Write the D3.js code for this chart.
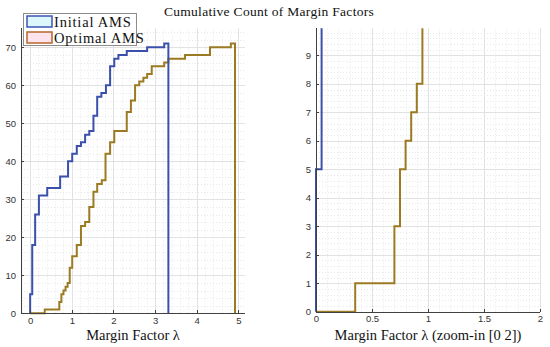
<!DOCTYPE html>
<html lang="en">
    <head>
        <meta charset="utf-8">
        <title>Cumulative Count of Margin Factors</title>
        <script src="https://cdn.jsdelivr.net/npm/d3@7"></script>
        <style type="text/css">
            body { margin: 0; background: #fff; }
            .axis path, .axis line { stroke: #404040; shape-rendering: crispEdges; }
            .axis text { font-family: "Liberation Sans", Arial, sans-serif; font-size: 9.5px; fill: #333; }
            .serif { font-family: "Liberation Serif", "Times New Roman", serif; fill: #111; }
        </style>
    </head>
    <body>
        <script type="text/javascript">
            // step positions (margin factor) and cumulative counts
            const initX = [0, 0.05, 0.12, 0.21, 0.41, 0.72, 0.91, 1.01, 1.12, 1.22, 1.32, 1.42, 1.52, 1.61, 1.71, 1.82, 1.92, 2.02, 2.12, 2.32, 2.81, 3.22]
            const initCount = [5, 18, 26, 31, 33, 36, 40, 42, 44, 45, 47, 48, 52, 57, 58, 60, 65, 67, 68, 69, 70, 71]
            const initEnd = 3.32

            const optX = [0.35, 0.70, 0.75, 0.80, 0.85, 0.90, 0.95, 1.01, 1.12, 1.22, 1.32, 1.42, 1.52, 1.61, 1.72, 1.81, 1.92, 2.02, 2.32, 2.42, 2.52, 2.62, 2.72, 2.81, 2.92, 3.22, 3.32, 3.72, 4.32, 4.82]
            const optCount = [1, 3, 5, 6, 7, 8, 12, 15, 18, 23, 24, 28, 32, 34, 35, 42, 45, 48, 53, 56, 60, 61, 62, 63, 65, 66, 67, 68, 70, 71]
            const optEnd = 4.92

            const leftXTicks = [0, 1, 2, 3, 4, 5]
            const leftYTicks = [0, 10, 20, 30, 40, 50, 60, 70]
            const rightXTicks = [0, 0.5, 1, 1.5, 2]
            const rightYTicks = [0, 1, 2, 3, 4, 5, 6, 7, 8, 9]

            const series = [
                { name: "Initial AMS", xs: initX, ys: initCount, end: initEnd, color: "#3a50ab", swatch: "#ddf6fb", border: "#3a55b5" },
                { name: "Optimal AMS", xs: optX, ys: optCount, end: optEnd, color: "#9c7a22", swatch: "#fce3ee", border: "#b8662a" }
            ]

            const w = 550
            const h = 347

            const svg = d3.select("body").append("svg")
                .attr("width", w)
                .attr("height", h)

            function toPoints(s) {
                const pts = [[0, 0]]
                s.xs.forEach((x, i) => pts.push([x, s.ys[i]]))
                pts.push([s.end, s.ys[s.ys.length - 1]])
                pts.push([s.end, 0])
                return pts
            }

            function panel(opt) {
                const g = svg.append("g")
                const x = opt.x, y = opt.y
                const [x0, x1] = x.range()
                const [y0, y1] = y.range()

                // minor grid
                g.append("g").selectAll("line")
                    .data(d3.range(x.domain()[0], x.domain()[1] + 1e-9, opt.xMinor).map(v => Math.round(v / opt.xMinor) * opt.xMinor))
                    .enter().append("line")
                    .attr("x1", d => Math.round(x(d)) + 0.5).attr("x2", d => Math.round(x(d)) + 0.5)
                    .attr("y1", y0).attr("y2", y1)
                    .attr("stroke", "#d8d8d8").attr("stroke-width", 0.6).attr("stroke-dasharray", "1,2")
                g.append("g").selectAll("line")
                    .data(d3.range(0, y.domain()[1] + 1e-9, opt.yMinor))
                    .enter().append("line")
                    .attr("y1", d => Math.round(y(d)) + 0.5).attr("y2", d => Math.round(y(d)) + 0.5)
                    .attr("x1", x0).attr("x2", x1)
                    .attr("stroke", "#d8d8d8").attr("stroke-width", 0.6).attr("stroke-dasharray", "1,2")

                // major grid
                g.append("g").selectAll("line")
                    .data(opt.xTicks)
                    .enter().append("line")
                    .attr("x1", d => Math.round(x(d)) + 0.5).attr("x2", d => Math.round(x(d)) + 0.5)
                    .attr("y1", y0).attr("y2", y1)
                    .attr("stroke", "#e2e2e2").attr("stroke-width", 1)
                g.append("g").selectAll("line")
                    .data(opt.yTicks)
                    .enter().append("line")
                    .attr("y1", d => Math.round(y(d)) + 0.5).attr("y2", d => Math.round(y(d)) + 0.5)
                    .attr("x1", x0).attr("x2", x1)
                    .attr("stroke", "#e2e2e2").attr("stroke-width", 1)

                // stairs
                const clipId = "clip" + opt.id
                svg.append("clipPath").attr("id", clipId)
                    .append("rect")
                    .attr("x", x0 - 2).attr("y", y1)
                    .attr("width", x1 - x0 + 4).attr("height", y0 - y1 + 2)

                const line = d3.line()
                    .x(d => x(d[0]))
                    .y(d => y(d[1]))
                    .curve(d3.curveStepAfter)

                g.append("g").attr("clip-path", `url(#${clipId})`)
                    .selectAll("path")
                    .data(series.slice().reverse())
                    .enter().append("path")
                    .attr("d", d => line(toPoints(d)))
                    .attr("fill", "none")
                    .attr("stroke", d => d.color)
                    .attr("stroke-width", 2)

                // axes
                const xAxis = d3.axisBottom(x).tickValues(opt.xTicks).tickSize(-3).tickPadding(4)
                    .tickFormat(d3.format("~g"))
                const yAxis = d3.axisLeft(y).tickValues(opt.yTicks).tickSize(-3).tickPadding(5)

                g.append("g").attr("class", "axis")
                    .attr("transform", `translate(0, ${y0})`)
                    .call(xAxis)
                    .call(a => a.select(".domain").attr("d", `M${x0},0.5H${x1}`))
                g.append("g").attr("class", "axis")
                    .attr("transform", `translate(${x0}, 0)`)
                    .call(yAxis)
                    .call(a => a.select(".domain").attr("d", `M0.5,${y0}V${y1}`))

                g.append("text").attr("class", "serif")
                    .attr("x", opt.labelX).attr("y", 340)
                    .attr("text-anchor", "middle")
                    .attr("font-size", 14.5)
                    .text(opt.label)
            }

            panel({
                id: "L",
                x: d3.scaleLinear().domain([-0.22, 5.16]).range([21, 245]),
                y: d3.scaleLinear().domain([0, 75]).range([313.3, 28.3]),
                xTicks: leftXTicks, yTicks: leftYTicks,
                xMinor: 0.2, yMinor: 2,
                label: "Margin Factor λ", labelX: 133
            })

            panel({
                id: "R",
                x: d3.scaleLinear().domain([0, 2]).range([316, 540]),
                y: d3.scaleLinear().domain([0, 9.95]).range([311.7, 28.3]),
                xTicks: rightXTicks, yTicks: rightYTicks,
                xMinor: 0.1, yMinor: 0.2,
                label: "Margin Factor λ (zoom-in [0 2])", labelX: 428
            })

            svg.append("text").attr("class", "serif")
                .attr("x", 269).attr("y", 16)
                .attr("text-anchor", "middle")
                .attr("font-size", 13.5)
                .attr("letter-spacing", 0.3)
                .text("Cumulative Count of Margin Factors")

            // legend
            const legend = svg.append("g").attr("transform", "translate(23, 13)")
            legend.append("rect")
                .attr("x", 0.5).attr("y", 0.5)
                .attr("width", 113).attr("height", 32)
                .attr("fill", "#fff").attr("stroke", "#8c8c8c")
            const items = legend.selectAll(".item")
                .data(series)
                .enter().append("g")
                .attr("transform", (_, i) => `translate(4, ${3 + i * 16})`)
            items.append("rect")
                .attr("width", 25).attr("height", 11)
                .attr("fill", d => d.swatch)
                .attr("stroke", d => d.border)
                .attr("stroke-width", 1.5)
            items.append("text").attr("class", "serif")
                .attr("x", 27).attr("y", 10.5)
                .attr("font-size", 14.5)
                .attr("letter-spacing", 0.8)
                .text(d => d.name)
        </script>
    </body>
</html>
